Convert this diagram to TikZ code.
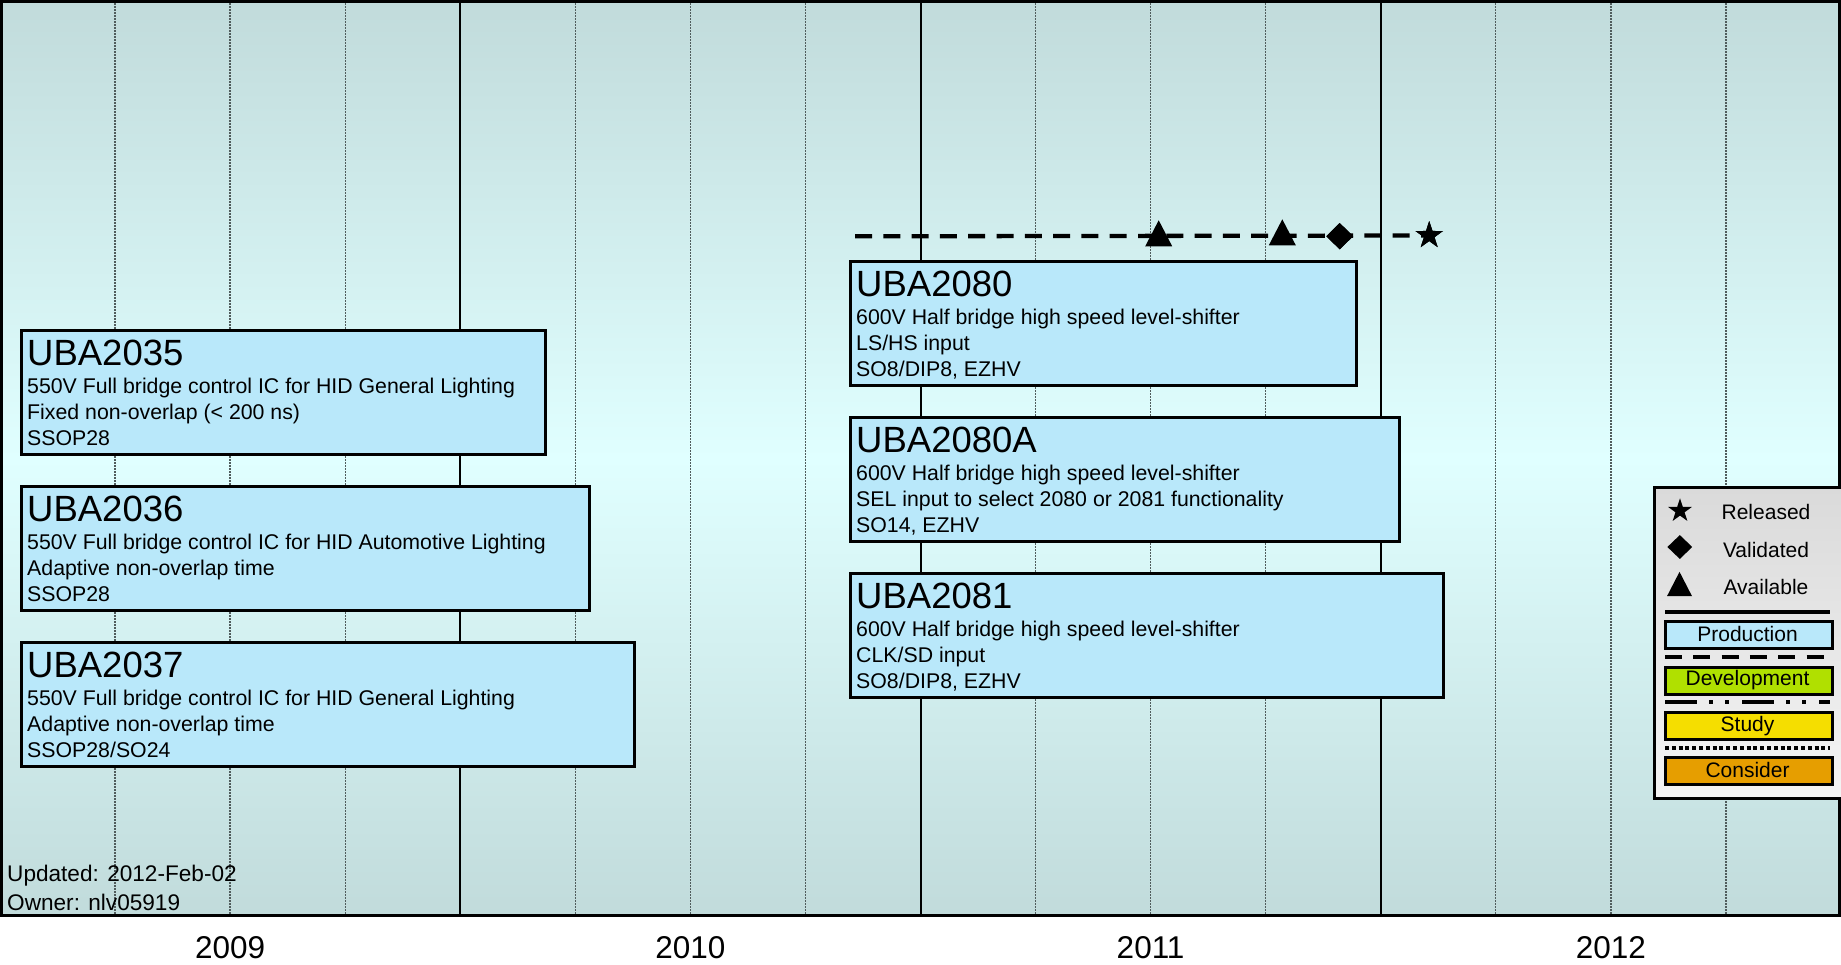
\documentclass[tikz,border=0pt]{standalone}
\usepackage{fontspec}
\setmainfont{Liberation Sans}
\usetikzlibrary{shapes.geometric}

\definecolor{bgedge}{RGB}{193,219,219}
\definecolor{bgmid}{RGB}{224,255,255}
\definecolor{prodfill}{RGB}{185,232,250}
\definecolor{devfill}{RGB}{186,238,0}
\definecolor{devedge}{RGB}{176,224,0}
\definecolor{studyfill}{RGB}{255,242,0}
\definecolor{studyedge}{RGB}{245,222,0}
\definecolor{considerfill}{RGB}{246,176,0}
\definecolor{consideredge}{RGB}{230,158,0}
\definecolor{legtop}{RGB}{218,218,218}
\definecolor{legbot}{RGB}{244,244,244}
\definecolor{quartergray}{RGB}{80,92,92}

\newcommand{\fsz}[1]{\fontsize{#1}{#1}\selectfont}

\tikzset{
  yearline/.style={line width=2pt, black},
  quarterline/.style={line width=1.3pt, quartergray, dash pattern=on 1.5pt off 1.5pt},
  chip/.style={draw, line width=2.5pt, fill=prodfill, anchor=north west,
    inner sep=0pt, minimum height=124pt},
  chiptitle/.style={anchor=base west, inner sep=0pt, font=\fsz{36.5}},
  chipline/.style={anchor=base west, inner sep=0pt, font=\fsz{21.3}},
  yearlabel/.style={anchor=base, inner sep=0pt, font=\fsz{31.5}},
  notetext/.style={anchor=base west, inner sep=0pt, font=\fsz{22.6}},
  legtext/.style={anchor=base, inner sep=0pt, font=\fsz{21}},
  legbox/.style={draw, line width=2.5pt, inner sep=0pt, anchor=north west,
    minimum width=167pt, minimum height=27pt},
  legline/.style={line width=4pt},
  timeline/.style={line width=4.3pt, dash pattern=on 17pt off 11.3pt},
  starmark/.style={star, star points=5, star point ratio=2.6, fill=black,
    inner sep=0pt, minimum size=#1},
  diamark/.style={diamond, fill=black, inner sep=0pt},
}

% product box: name, x, y, width, title, three lines of description
\newcommand{\chipbox}[8]{%
  \node[chip, minimum width=#4pt] (#1) at (#2,#3) {};
  \node[chiptitle] (#1-title) at ([xshift=7pt,yshift=-36pt]#1.north west) {#5};
  \node[chipline] (#1-a) at ([xshift=7pt,yshift=-64.5pt]#1.north west) {#6};
  \node[chipline] (#1-b) at ([xshift=7pt,yshift=-90.5pt]#1.north west) {#7};
  \node[chipline] (#1-c) at ([xshift=7pt,yshift=-116.5pt]#1.north west) {#8};
}

% filled triangle centred on a coordinate: coordinate, width, height
\newcommand{\trimark}[3]{%
  \fill (#1) ++(-#2/2,#3/2) -- ++(#2,0) -- ++(-#2/2,-#3) -- cycle;
}

\begin{document}
\begin{tikzpicture}[x=1pt,y=-1pt]
\useasboundingbox (0,0) rectangle (1841,964);
\fill[white] (0,0) rectangle (1841,964);

% plot background
\shade[top color=bgedge, bottom color=bgmid] (0,0) rectangle (1841,458.5);
\shade[top color=bgmid, bottom color=bgedge] (0,458) rectangle (1841,916);

% quarter and year grid
\foreach \q in {1,2,3,5,6,7,9,10,11,13,14,15}
  \draw[quarterline] (\q*115.0625,0) -- (\q*115.0625,916);
\foreach \q in {4,8,12}
  \draw[yearline] (\q*115.0625,0) -- (\q*115.0625,916);

% frame
\draw[line width=3pt] (1.5,1.5) rectangle (1839.5,915);

% year labels
\node[yearlabel] (y2009) at (230.1,958) {2009};
\node[yearlabel] (y2010) at (690.4,958) {2010};
\node[yearlabel] (y2011) at (1150.6,958) {2011};
\node[yearlabel] (y2012) at (1610.9,958) {2012};

% products
\chipbox{u2035}{20}{329}{524}{UBA2035}{550V Full bridge control IC for HID General Lighting}{Fixed non-overlap (< 200 ns)}{SSOP28}
\chipbox{u2036}{20}{485}{568}{UBA2036}{550V Full bridge control IC for HID Automotive Lighting}{Adaptive non-overlap time}{SSOP28}
\chipbox{u2037}{20}{641}{613}{UBA2037}{550V Full bridge control IC for HID General Lighting}{Adaptive non-overlap time}{SSOP28/SO24}
\chipbox{u2080}{849}{260}{506}{UBA2080}{600V Half bridge high speed level-shifter}{LS/HS input}{SO8/DIP8, EZHV}
\chipbox{u2080a}{849}{416}{549}{UBA2080A}{600V Half bridge high speed level-shifter}{SEL input to select 2080 or 2081 functionality}{SO14, EZHV}
\chipbox{u2081}{849}{572}{593}{UBA2081}{600V Half bridge high speed level-shifter}{CLK/SD input}{SO8/DIP8, EZHV}

% milestone line for UBA2080
\coordinate (tlstart) at (855,236.3);
\coordinate (m1) at (1158.7,233.3);
\coordinate (m2) at (1282.3,232.3);
\node[diamark, minimum width=27pt, minimum height=26.5pt] (m3) at (1339.7,236.2) {};
\node[starmark=29pt] (m4) at (1429.2,235.5) {};
\draw[timeline] (tlstart) -- (m4.center);
\trimark{m1}{27}{26}
\trimark{m2}{27}{26}
\node[diamark, minimum width=27pt, minimum height=26.5pt] at (m3) {};
\node[starmark=29pt] at (m4) {};

% notes
\node[notetext] (upd) at (7,881.5) {Updated: 2012-Feb-02};
\node[notetext] (own) at (7,910) {Owner: nlv05919};

% legend
\path[draw, line width=3pt, top color=legtop, bottom color=legbot] (1654,487) rectangle (1843,798.5);
\node[starmark=25pt] (lrel) at (1680,510.8) {};
\node[legtext] (lreltext) at (1766,519.3) {Released};
\node[diamark, minimum width=25pt, minimum height=24pt] (lval) at (1679.8,547) {};
\node[legtext] (lvaltext) at (1766,557.3) {Validated};
\coordinate (lava) at (1679.5,584);
\trimark{lava}{25}{24.3}
\node[legtext] (lavatext) at (1766,594.3) {Available};

\draw[legline] (1665,612) -- (1830,612);
\node[legbox, fill=prodfill] (lprod) at (1664,620) {};
\node[legtext] (lprodtext) at (1747.5,641.7) {Production};

\draw[legline, dash pattern=on 17pt off 11.3pt] (1665,657) -- (1830,657);
\node[legbox, top color=devedge, middle color=devfill, bottom color=devedge] (ldev) at (1664,666) {};
\node[legtext] (ldevtext) at (1747.5,685.7) {Development};

\draw[legline, dash pattern=on 32pt off 12pt on 4pt off 12pt on 4pt off 13pt] (1665,702) -- (1830,702);
\node[legbox, top color=studyedge, middle color=studyfill, bottom color=studyedge] (lstudy) at (1664,711) {};
\node[legtext] (lstudytext) at (1747.5,731) {Study};

\draw[legline, dash pattern=on 4pt off 2.8pt] (1665,748) -- (1830,748);
\node[legbox, top color=consideredge, middle color=considerfill, bottom color=consideredge] (lcons) at (1664,756) {};
\node[legtext] (lconstext) at (1747.5,777.3) {Consider};
\end{tikzpicture}
\end{document}
